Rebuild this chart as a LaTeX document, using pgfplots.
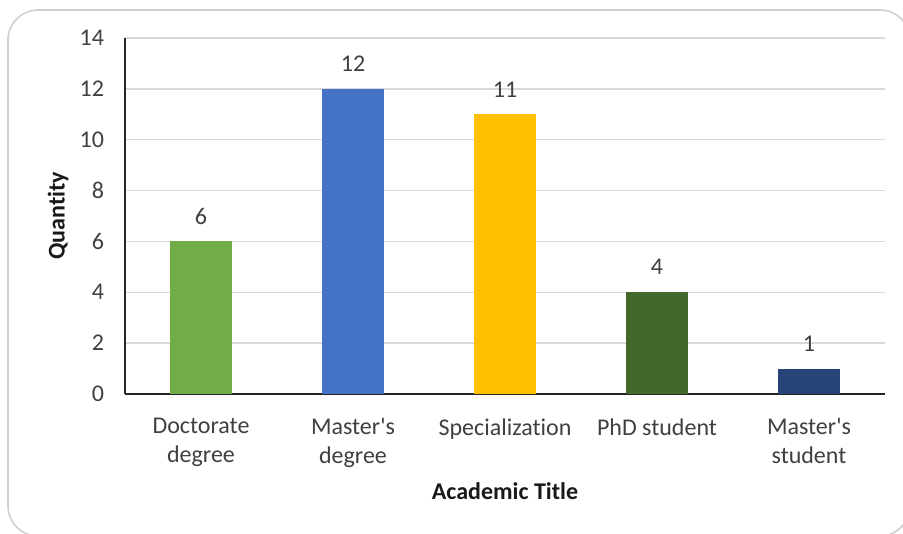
\documentclass[border=0pt]{standalone}
\usepackage{pgfplots}
\pgfplotsset{compat=1.18}
\usepackage{fontspec}
% no TeX ligature mapping (straight apostrophe) and no "ti" ligature
\setmainfont{Carlito}[Ligatures={TeXOff,NoCommon}]

\definecolor{barGreen}{HTML}{70AD47}
\definecolor{barBlue}{HTML}{4472C4}
\definecolor{barGold}{HTML}{FFC000}
\definecolor{barDarkGreen}{HTML}{43682B}
\definecolor{barNavy}{HTML}{264478}
\definecolor{txtGray}{HTML}{404040}
\definecolor{gridGray}{HTML}{D9D9D9}
\definecolor{frameGray}{HTML}{D0D0D0}

\begin{document}
\begin{tikzpicture}
\useasboundingbox (0,0) rectangle (451.5pt,267pt);
\fill[white] (0,0) rectangle (451.5pt,267pt);
\draw[frameGray, line width=0.8pt, rounded corners=15pt] (4pt,-1pt) rectangle (455pt,262pt);
\begin{axis}[
  at={(62.5pt,70pt)}, anchor=south west,
  scale only axis,
  width=380pt, height=178pt,
  xmin=-0.5, xmax=4.5,
  ymin=0, ymax=14,
  ytick={0,2,...,14},
  xtick={0,1,2,3,4},
  xticklabels={{Doctorate\\degree},{Master's\\degree},{Specialization},{PhD student},{Master's\\student}},
  axis lines*=left,
  axis line style={black!85, line width=0.6pt},
  ymajorgrids,
  grid style={gridGray, line width=0.7pt},
  major tick length=0pt,
  tick label style={font=\fontsize{12}{14.5}\selectfont, text=txtGray},
  /pgf/number format/assume math mode=true,
  yticklabel style={xshift=-7pt},
  xticklabel style={align=center, inner sep=0pt, yshift=-12pt},
  xlabel={\textbf{Academic Title}},
  ylabel={\textbf{Quantity}},
  xlabel style={font=\fontsize{12}{14.5}\selectfont, text=black!90,
    at={([yshift=-44pt]axis description cs:0.5,0)}, anchor=north, inner sep=0pt},
  ylabel style={font=\fontsize{12}{14.5}\selectfont, text=black!90,
    at={([xshift=-33.5pt]axis description cs:0,0.5)}, anchor=center, rotate=0},
  ybar, bar width=31pt, bar shift=0pt,
  nodes near coords,
  every node near coord/.append style={font=\fontsize{12}{14.5}\selectfont, text=txtGray, anchor=center, yshift=12.5pt},
  clip=false,
]
\addplot[fill=barGreen, draw=none] coordinates {(0,6)};
\addplot[fill=barBlue, draw=none] coordinates {(1,12)};
\addplot[fill=barGold, draw=none] coordinates {(2,11)};
\addplot[fill=barDarkGreen, draw=none] coordinates {(3,4)};
\addplot[fill=barNavy, draw=none] coordinates {(4,1)};
\end{axis}
\end{tikzpicture}
\end{document}
